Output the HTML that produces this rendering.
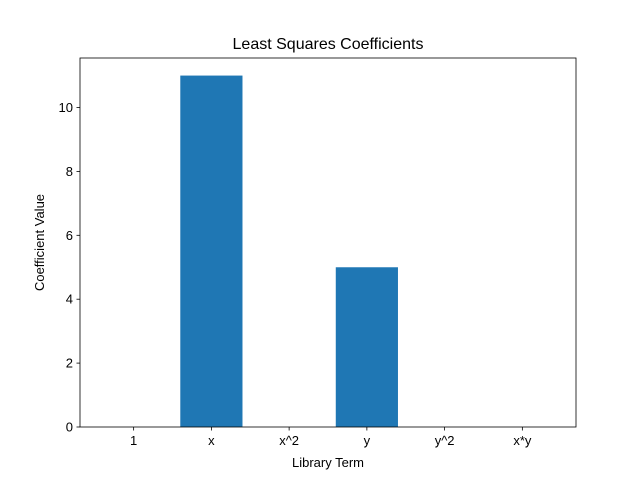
<!DOCTYPE html>
<html><head><meta charset="utf-8"><style>
body{margin:0;background:#fff;font-family:"Liberation Sans","DejaVu Sans",sans-serif}
</style></head><body>
<svg id="c" width="640" height="480" xmlns="http://www.w3.org/2000/svg"></svg>
<script>
const categories=["1","x","x^2","y","y^2","x*y"];
const values=[0,11,0,5,0,0];
const yTicks=[0,2,4,6,8,10];
const L=80,R=576,T=58,B=427;
const x0=-0.69,x1=5.69,y0=0,y1=11.55;
const sx=v=>L+(v-x0)/(x1-x0)*(R-L);
const sy=v=>B-(v-y0)/(y1-y0)*(B-T);
const svg=document.getElementById('c');
const NS="http://www.w3.org/2000/svg";
function mk(t,a,txt){const e=document.createElementNS(NS,t);for(const k in a)e.setAttribute(k,a[k]);if(txt!==undefined)e.textContent=txt;svg.appendChild(e);return e;}
values.forEach((v,i)=>{
  const e=mk('rect',{x:sx(i-0.4),y:sy(v),width:sx(i+0.4)-sx(i-0.4),height:sy(0)-sy(v),fill:'#1f77b4'});
  
  
});
const f=mk('rect',{x:L,y:T,width:R-L,height:B-T,fill:'none',stroke:'#000','stroke-width':0.8});


categories.forEach((c,i)=>{
  const X=sx(i);
  mk('line',{x1:X,x2:X,y1:B,y2:B+3.5,stroke:'#000','stroke-width':0.8});
  const t=mk('text',{x:X,y:B+18,'text-anchor':'middle','font-size':13,fill:'#000'},c);
  
  
});
yTicks.forEach(v=>{
  const Y=sy(v);
  mk('line',{x1:L-3.5,x2:L,y1:Y,y2:Y,stroke:'#000','stroke-width':0.8});
  const t=mk('text',{x:L-7,y:Y+4.5,'text-anchor':'end','font-size':13,fill:'#000'},String(v));
  
  
});
let t=mk('text',{x:(L+R)/2,y:49,'text-anchor':'middle','font-size':16,fill:'#000'},'Least Squares Coefficients');


t=mk('text',{x:(L+R)/2,y:467,'text-anchor':'middle','font-size':13,fill:'#000'},'Library Term');


t=mk('text',{x:40,y:(T+B)/2+4,'text-anchor':'middle','font-size':13,fill:'#000',transform:'rotate(-90 40 '+((T+B)/2)+')'},'Coefficient Value');


</script>
</body></html>
